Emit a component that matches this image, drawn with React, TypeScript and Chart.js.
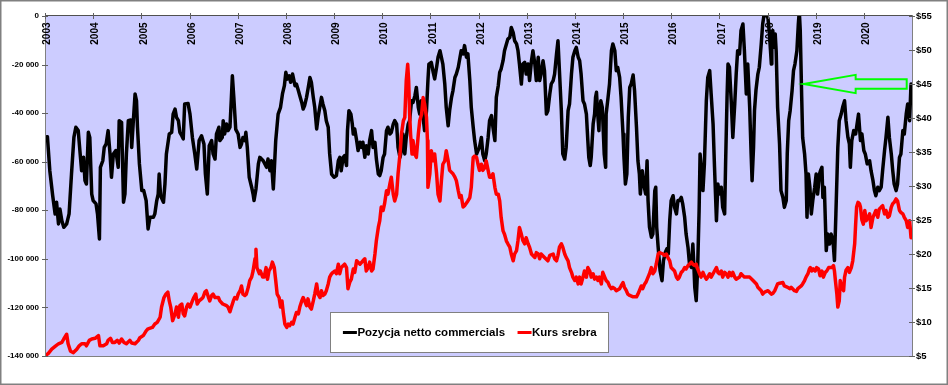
import React, { useEffect, useRef } from 'react';
import { Chart, registerables } from 'chart.js';

Chart.register(...registerables);

// x positions are in years counted from the "2003" tick
const yearLabels = ['2003','2004','2005','2006','2007','2008','2009','2010','2011','2012','2013','2014','2015','2016','2017','2018','2019','2020'];
const xMax = 18;

const netLabel = 'Pozycja netto commercials';
const silverLabel = 'Kurs srebra';

// net commercials position (contracts)
const netCommercials: [number, number][] = [
[0,-50000],[0.05,-49700],[0.10,-63700],[0.16,-74000],[0.21,-81500],[0.24,-76700],[0.28,-85600],[0.31,-79500],[0.35,-84300],[0.39,-87000],[0.45,-85600],[0.50,-81500],[0.55,-65100],[0.60,-50000],[0.64,-45800],[0.69,-47200],[0.73,-56800],[0.76,-63700],[0.80,-58200],[0.83,-67800],[0.86,-69200],[0.90,-47900],[0.93,-50000],[0.97,-73300],[1.00,-76000],[1.06,-77400],[1.09,-81500],[1.13,-91800],[1.15,-62300],[1.20,-59600],[1.23,-54100],[1.27,-52700],[1.31,-47200],[1.35,-56800],[1.38,-66400],[1.42,-56800],[1.47,-55400],[1.52,-62300],[1.54,-43100],[1.59,-43800],[1.63,-76700],[1.66,-73300],[1.69,-56800],[1.73,-43100],[1.78,-42800],[1.80,-54100],[1.83,-44500],[1.87,-32100],[1.90,-34900],[1.92,-45800],[1.96,-60900],[2.01,-71900],[2.05,-71900],[2.10,-76000],[2.14,-87700],[2.18,-82900],[2.25,-82900],[2.28,-81500],[2.32,-76000],[2.35,-73300],[2.37,-65100],[2.40,-74000],[2.46,-76700],[2.49,-69200],[2.52,-56800],[2.58,-48600],[2.63,-47900],[2.66,-40400],[2.70,-38300],[2.73,-41700],[2.77,-43100],[2.80,-47900],[2.84,-49300],[2.87,-50600],[2.90,-36200],[2.97,-36000],[3.01,-40400],[3.06,-50000],[3.11,-56800],[3.15,-63000],[3.20,-51300],[3.25,-49300],[3.30,-52700],[3.33,-65100],[3.37,-73300],[3.41,-53400],[3.46,-51300],[3.49,-56800],[3.53,-58900],[3.56,-48600],[3.61,-45800],[3.63,-51300],[3.68,-50000],
[3.70,-43100],[3.73,-48600],[3.77,-44500],[3.80,-47200],[3.84,-45800],[3.87,-33500],[3.89,-24600],[3.92,-33500],[3.96,-46700],[4.01,-48600],[4.05,-54100],[4.08,-52700],[4.11,-50000],[4.15,-51300],[4.17,-47900],[4.20,-54100],[4.24,-66400],[4.29,-70500],[4.32,-73300],[4.34,-76000],[4.38,-71200],[4.43,-60900],[4.46,-58200],[4.53,-59600],[4.60,-62300],[4.63,-58900],[4.67,-63700],[4.70,-59600],[4.74,-71200],[4.76,-63700],[4.79,-51300],[4.84,-40400],[4.89,-37600],[4.93,-32100],[4.97,-28700],[5.00,-23200],[5.03,-26000],[5.07,-24600],[5.10,-27300],[5.14,-23900],[5.19,-28700],[5.22,-28000],[5.26,-30700],[5.29,-32800],[5.33,-35600],[5.36,-38300],[5.39,-36900],[5.43,-33500],[5.46,-30100],[5.50,-25300],[5.53,-27300],[5.57,-33500],[5.60,-37600],[5.64,-46500],[5.67,-41700],[5.71,-36900],[5.74,-33500],[5.77,-36200],[5.81,-39000],[5.84,-43100],[5.88,-45800],[5.91,-56800],[5.95,-65100],[6.00,-66400],[6.05,-65700],[6.09,-59600],[6.12,-58200],[6.15,-63700],[6.19,-58200],[6.22,-57500],[6.26,-61600],[6.28,-47200],[6.31,-39000],[6.35,-40400],[6.38,-44500],[6.40,-48600],[6.43,-46500],[6.47,-51300],[6.50,-55400],[6.54,-52000],[6.57,-54100],[6.60,-52000],[6.64,-58200],[6.67,-53400],[6.71,-56800],[6.74,-51300],[6.78,-47200],[6.81,-54100],[6.85,-52000],[6.88,-58900],[6.92,-65100],[6.95,-65700],[6.98,-63700],[7.02,-58200],[7.05,-56800],[7.09,-47200],[7.12,-45800],[7.16,-48600],[7.19,-47900],[7.23,-44500],[7.26,-43100],
[7.30,-44500],[7.33,-54100],[7.37,-58200],[7.40,-55400],[7.43,-48600],[7.47,-56800],[7.50,-50000],[7.54,-44500],[7.57,-43100],[7.61,-34900],[7.64,-35600],[7.68,-32800],[7.71,-29400],[7.75,-37600],[7.78,-40400],[7.81,-34900],[7.85,-41700],[7.88,-47200],[7.92,-39000],[7.95,-26600],[7.97,-19800],[8.02,-19100],[8.06,-23200],[8.09,-25900],[8.13,-21100],[8.16,-17000],[8.20,-14300],[8.23,-17000],[8.26,-19800],[8.30,-28000],[8.33,-37600],[8.37,-45200],[8.40,-39000],[8.44,-33500],[8.47,-30700],[8.51,-25300],[8.54,-23900],[8.58,-21100],[8.61,-17700],[8.64,-14300],[8.68,-15600],[8.71,-12200],[8.75,-17000],[8.78,-15600],[8.82,-26600],[8.85,-37600],[8.89,-45800],[8.92,-51300],[8.96,-56800],[8.99,-55400],[9.02,-54100],[9.06,-50000],[9.09,-56800],[9.13,-59600],[9.16,-56800],[9.20,-50000],[9.23,-43100],[9.27,-41000],[9.30,-45800],[9.34,-51300],[9.37,-33500],[9.41,-28700],[9.44,-23200],[9.47,-21800],[9.51,-18400],[9.54,-14300],[9.58,-11500],[9.61,-9500],[9.65,-8800],[9.68,-4700],[9.72,-6800],[9.75,-10200],[9.79,-11500],[9.82,-14300],[9.85,-19800],[9.89,-28000],[9.92,-19800],[9.96,-19100],[9.99,-23900],[10.03,-19800],[10.06,-26600],[10.10,-18400],[10.13,-14300],[10.17,-19800],[10.20,-26600],[10.24,-17000],[10.27,-26600],[10.30,-23900],[10.34,-18400],[10.37,-22500],[10.41,-40400],[10.44,-39000],[10.48,-32100],[10.51,-28000],[10.55,-26600],[10.58,-23900],[10.62,-15600],[10.65,-10200],[10.68,-22500],[10.72,-39000],[10.75,-56800],[10.79,-58900],[10.82,-54100],[10.86,-39000],[10.89,-36200],[10.93,-23900],[10.96,-17000],
[11.00,-14300],[11.03,-12900],[11.07,-17000],[11.10,-18400],[11.13,-23900],[11.17,-34900],[11.20,-36200],[11.24,-40400],[11.27,-51300],[11.29,-58200],[11.32,-61600],[11.34,-58200],[11.38,-44500],[11.41,-40400],[11.43,-33500],[11.45,-31400],[11.47,-39000],[11.50,-47200],[11.51,-40400],[11.54,-34900],[11.57,-37600],[11.61,-56800],[11.64,-62300],[11.65,-40400],[11.69,-33500],[11.72,-28000],[11.76,-14300],[11.79,-11500],[11.83,-14300],[11.86,-22500],[11.89,-21100],[11.93,-25300],[11.96,-33500],[12.00,-48600],[12.02,-58200],[12.05,-69200],[12.08,-65100],[12.11,-41700],[12.14,-29400],[12.17,-28000],[12.21,-24300],[12.24,-30700],[12.28,-45800],[12.31,-59600],[12.34,-65100],[12.36,-73300],[12.40,-63700],[12.43,-69200],[12.47,-73300],[12.50,-59600],[12.52,-76000],[12.55,-87000],[12.59,-91100],[12.62,-89800],[12.66,-71900],[12.68,-70500],[12.70,-87000],[12.73,-95300],[12.77,-104900],[12.81,-109000],[12.84,-100700],[12.88,-97300],[12.91,-95900],[12.94,-98000],[12.97,-84300],[13.00,-76000],[13.04,-74000],[13.07,-78800],[13.11,-81500],[13.14,-76000],[13.17,-76000],[13.21,-74700],[13.24,-77400],[13.28,-82900],[13.31,-89800],[13.35,-95300],[13.38,-102100],[13.42,-103500],[13.45,-93900],[13.47,-102100],[13.49,-111700],[13.52,-117200],[13.55,-103500],[13.58,-80200],[13.60,-56800],[13.63,-63700],[13.66,-71900],[13.69,-60900],[13.73,-34900],[13.76,-25300],[13.80,-22500],[13.83,-32100],[13.87,-44500],[13.90,-62300],[13.94,-84300],[13.97,-69200],[14.00,-73300],[14.04,-70500],[14.07,-78800],[14.11,-81500],[14.13,-60900],[14.16,-33500],[14.18,-19800],[14.21,-21100],[14.25,-36200],[14.28,-50000],[14.32,-36200],[14.35,-23900],[14.38,-14300],[14.42,-15600],[14.45,-6000],[14.49,-3300],
[14.52,-14000],[14.56,-32100],[14.59,-19800],[14.63,-37600],[14.66,-56800],[14.68,-67800],[14.71,-54100],[14.73,-39000],[14.76,-30700],[14.80,-23900],[14.83,-21100],[14.87,-11500],[14.90,-3300],[14.94,2000],[14.97,1000],[15.01,-1000],[15.04,-7400],[15.08,-19800],[15.09,-10200],[15.11,-6000],[15.13,-12900],[15.16,-7400],[15.18,-14300],[15.21,-37600],[15.25,-52700],[15.28,-71900],[15.32,-74700],[15.35,-78800],[15.39,-76000],[15.41,-56800],[15.44,-43100],[15.47,-39000],[15.51,-30700],[15.54,-22500],[15.57,-19800],[15.61,-14300],[15.64,-3300],[15.66,2000],[15.68,-6000],[15.71,-33500],[15.73,-50000],[15.77,-56800],[15.80,-65100],[15.82,-82900],[15.85,-65100],[15.88,-70500],[15.91,-81500],[15.94,-76000],[15.98,-70500],[16.01,-65100],[16.04,-73300],[16.08,-65100],[16.10,-63700],[16.13,-62300],[16.15,-74700],[16.18,-70500],[16.22,-96600],[16.25,-89800],[16.29,-93900],[16.32,-89800],[16.36,-92500],[16.39,-100700],[16.42,-81500],[16.46,-54100],[16.49,-43100],[16.53,-40400],[16.56,-37600],[16.60,-34900],[16.63,-43100],[16.67,-50000],[16.70,-52700],[16.72,-62300],[16.75,-51300],[16.79,-47200],[16.83,-48600],[16.86,-44500],[16.89,-40400],[16.93,-51300],[16.96,-48600],[17.00,-55400],[17.03,-56800],[17.07,-60900],[17.12,-59600],[17.15,-63700],[17.19,-67800],[17.22,-71900],[17.25,-74000],[17.29,-70500],[17.32,-71900],[17.36,-70500],[17.39,-63700],[17.43,-55400],[17.46,-50000],[17.50,-41700],[17.53,-50000],[17.57,-56800],[17.60,-63700],[17.63,-69200],[17.67,-71900],[17.70,-69200],[17.74,-58200],[17.77,-56800],[17.81,-47200],[17.84,-48600],[17.88,-40400],[17.91,-36200],[17.95,-43100],[17.98,-28000]
];

// silver price (USD)
const silverPrice: [number, number][] = [
[0,5.0],[0.07,5.4],[0.14,6.0],[0.21,6.4],[0.28,6.8],[0.35,7.0],[0.39,7.5],[0.45,8.2],[0.48,6.8],[0.53,5.7],[0.59,5.5],[0.66,6.0],[0.71,6.5],[0.76,6.8],[0.83,6.8],[0.86,6.5],[0.92,7.3],[0.97,7.5],[1.04,7.6],[1.11,8.0],[1.14,6.5],[1.21,6.5],[1.28,6.8],[1.31,7.3],[1.36,7.6],[1.40,7.0],[1.45,7.0],[1.50,7.3],[1.54,6.9],[1.59,7.5],[1.64,7.0],[1.69,6.8],[1.76,7.3],[1.80,6.9],[1.87,6.8],[1.94,7.3],[1.97,7.7],[2.04,8.0],[2.10,8.7],[2.14,9.0],[2.23,9.2],[2.28,9.7],[2.33,9.95],[2.39,10.7],[2.42,12.2],[2.47,13.6],[2.51,14.1],[2.55,14.4],[2.58,13.1],[2.61,12.2],[2.65,10.2],[2.70,11.2],[2.73,12.2],[2.77,10.7],[2.80,12.4],[2.84,12.65],[2.87,11.2],[2.90,10.9],[2.94,12.2],[2.97,12.65],[3.01,12.2],[3.06,13.1],[3.09,13.6],[3.13,14.1],[3.16,12.65],[3.20,13.1],[3.25,13.4],[3.28,13.6],[3.32,14.4],[3.35,14.6],[3.39,13.7],[3.42,13.1],[3.46,13.9],[3.49,14.1],[3.53,13.6],[3.60,13.6],[3.63,13.1],[3.69,12.65],
[3.77,12.4],[3.80,12.2],[3.84,11.5],[3.87,12.2],[3.91,13.1],[3.94,13.6],[3.98,13.4],[4.01,14.1],[4.05,14.6],[4.08,15.3],[4.11,14.1],[4.15,13.9],[4.18,14.1],[4.22,15.1],[4.25,16.1],[4.29,16.6],[4.32,17.5],[4.36,19.3],[4.38,20.7],[4.40,18.0],[4.45,17.1],[4.47,17.5],[4.52,16.6],[4.55,16.6],[4.59,18.0],[4.62,16.3],[4.65,17.5],[4.69,18.0],[4.72,18.8],[4.76,18.0],[4.79,16.1],[4.82,14.1],[4.86,13.6],[4.89,12.2],[4.92,13.1],[4.95,11.2],[4.98,9.7],[5.02,9.2],[5.05,9.7],[5.08,9.45],[5.12,9.95],[5.15,9.7],[5.19,10.7],[5.22,11.4],[5.26,11.2],[5.29,12.2],[5.33,13.1],[5.36,13.6],[5.39,13.1],[5.43,12.4],[5.46,13.4],[5.50,12.2],[5.53,11.9],[5.57,13.1],[5.60,14.1],[5.64,15.6],[5.67,14.1],[5.71,13.6],[5.74,14.6],[5.77,13.9],[5.81,14.1],[5.84,14.6],[5.88,15.6],[5.91,16.6],[5.95,17.1],[5.98,17.3],[6.02,17.5],[6.05,17.1],[6.09,18.5],[6.12,17.1],[6.15,18.0],[6.22,18.5],[6.26,18.0],[6.29,14.9],[6.33,15.9],[6.36,16.3],[6.40,17.8],[6.43,17.3],[6.47,19.0],[6.54,18.5],[6.60,19.0],[6.64,19.3],[6.67,17.5],[6.71,18.0],[6.74,18.8],[6.78,17.5],[6.81,17.8],[6.85,20.0],[6.88,22.0],[6.92,23.9],[6.95,24.9],[6.98,26.9],[7.02,26.4],[7.05,27.4],[7.09,29.3],[7.12,28.8],[7.16,30.3],[7.19,31.3],[7.23,28.8],[7.26,27.8],
[7.30,28.8],[7.33,31.8],[7.37,34.7],[7.40,37.6],[7.44,39.6],[7.47,40.1],[7.50,45.5],[7.53,47.9],[7.55,45.5],[7.57,40.6],[7.59,37.6],[7.62,34.7],[7.64,36.7],[7.68,34.7],[7.71,34.2],[7.75,37.6],[7.78,39.6],[7.82,40.6],[7.85,43.0],[7.88,42.1],[7.92,40.1],[7.94,36.7],[7.95,29.8],[7.99,31.8],[8.02,35.2],[8.06,33.7],[8.09,34.7],[8.13,31.8],[8.16,28.8],[8.20,27.8],[8.23,30.8],[8.26,33.2],[8.30,33.7],[8.33,35.2],[8.37,33.7],[8.40,32.3],[8.47,31.8],[8.51,31.3],[8.54,30.8],[8.58,29.3],[8.61,28.3],[8.64,28.6],[8.68,26.9],[8.71,27.1],[8.78,27.8],[8.82,28.3],[8.85,29.8],[8.89,34.2],[8.92,34.4],[8.96,34.2],[8.99,33.2],[9.02,32.3],[9.06,33.2],[9.09,32.3],[9.13,32.7],[9.16,33.7],[9.20,32.3],[9.23,31.3],[9.27,31.3],[9.30,31.8],[9.34,29.8],[9.37,28.8],[9.41,28.8],[9.44,27.8],[9.47,25.4],[9.51,23.4],[9.54,22.9],[9.58,21.9],[9.61,21.5],[9.65,21.0],[9.68,20.0],[9.72,19.0],[9.75,20.0],[9.79,20.5],[9.82,22.0],[9.85,23.9],[9.89,22.9],[9.92,22.0],[9.96,21.5],[9.99,22.4],[10.03,21.5],[10.06,21.0],[10.10,20.0],[10.17,19.5],[10.20,20.2],[10.24,20.0],[10.27,19.3],[10.30,20.0],[10.37,19.5],[10.44,19.0],[10.48,19.8],[10.55,20.0],[10.58,19.3],[10.62,19.0],[10.65,19.8],[10.68,21.0],[10.72,21.5],[10.75,21.0],[10.79,20.0],[10.82,19.5],[10.86,19.0],[10.89,18.0],[10.93,17.3],[10.96,16.6],
[11.00,16.1],[11.03,16.6],[11.07,15.6],[11.10,16.6],[11.13,15.6],[11.17,16.6],[11.20,17.5],[11.24,16.6],[11.27,18.0],[11.31,17.5],[11.34,16.6],[11.38,17.1],[11.41,16.3],[11.45,16.6],[11.48,16.1],[11.51,16.6],[11.55,15.6],[11.58,17.3],[11.62,16.6],[11.65,16.1],[11.69,15.8],[11.72,15.3],[11.76,14.9],[11.79,15.1],[11.83,14.9],[11.86,14.6],[11.93,14.9],[11.96,15.3],[12.00,15.8],[12.03,15.1],[12.07,14.6],[12.10,14.1],[12.14,13.9],[12.21,13.7],[12.28,13.7],[12.31,14.1],[12.34,14.6],[12.38,15.3],[12.41,14.9],[12.45,15.6],[12.48,15.9],[12.52,16.6],[12.55,17.1],[12.59,18.0],[12.62,17.1],[12.66,17.5],[12.69,18.5],[12.73,20.0],[12.76,20.2],[12.83,20.0],[12.86,19.8],[12.90,20.0],[12.93,19.5],[12.97,19.0],[13.00,18.0],[13.07,17.5],[13.11,16.6],[13.14,16.3],[13.17,16.6],[13.21,17.3],[13.24,17.5],[13.28,18.0],[13.31,17.8],[13.35,18.3],[13.38,18.5],[13.42,18.8],[13.45,18.5],[13.49,18.3],[13.52,18.5],[13.55,17.8],[13.59,17.1],[13.62,16.6],[13.66,17.3],[13.69,16.8],[13.73,16.3],[13.76,16.6],[13.80,17.1],[13.83,16.6],[13.87,17.1],[13.90,17.5],[13.94,18.0],[13.97,17.3],[14.00,17.1],[14.04,17.5],[14.07,16.6],[14.11,17.3],[14.14,17.1],[14.18,16.6],[14.21,17.3],[14.25,16.8],[14.28,17.3],[14.32,16.6],[14.35,16.3],[14.42,16.6],[14.45,17.1],[14.52,16.6],
[14.56,16.6],[14.63,16.6],[14.70,16.1],[14.77,15.6],[14.80,15.1],[14.87,14.6],[14.90,14.1],[14.94,14.4],[15.01,14.6],[15.08,14.1],[15.11,14.2],[15.15,14.6],[15.18,15.1],[15.21,15.6],[15.25,15.7],[15.32,15.8],[15.35,15.3],[15.42,15.1],[15.46,14.9],[15.49,15.1],[15.56,14.6],[15.60,14.5],[15.63,14.9],[15.70,15.3],[15.73,15.6],[15.77,16.1],[15.80,16.6],[15.84,17.1],[15.87,17.8],[15.89,18.0],[15.92,17.5],[15.95,17.8],[15.99,17.5],[16.02,18.0],[16.06,17.8],[16.09,16.8],[16.13,17.5],[16.16,16.6],[16.20,17.3],[16.23,17.5],[16.27,18.0],[16.34,18.0],[16.37,18.3],[16.39,17.5],[16.41,16.1],[16.44,14.1],[16.46,12.2],[16.49,13.1],[16.51,16.1],[16.54,15.1],[16.58,14.6],[16.60,16.6],[16.63,17.6],[16.67,18.0],[16.70,17.3],[16.74,18.0],[16.77,19.0],[16.81,21.5],[16.83,24.4],[16.85,26.9],[16.88,27.6],[16.91,27.4],[16.93,26.9],[16.96,25.0],[16.99,24.4],[17.02,26.4],[17.05,24.9],[17.09,25.4],[17.12,25.9],[17.15,23.9],[17.19,25.4],[17.22,25.9],[17.25,26.4],[17.29,25.4],[17.32,26.6],[17.36,26.9],[17.39,27.1],[17.43,25.9],[17.46,26.4],[17.50,25.4],[17.53,25.6],[17.57,26.9],[17.60,27.4],[17.63,27.6],[17.67,28.1],[17.70,27.8],[17.74,26.4],[17.77,26.1],[17.81,25.9],[17.84,25.4],[17.88,24.9],[17.91,23.9],[17.95,24.9],[17.98,22.4]
];

// green arrow annotation (x in years, level on the $ axis)
const arrowTip = 15.75;
const arrowNeck = 16.83;
const arrowTail = 17.89;
const arrowLevel = 45;
const arrowHeadHalf = 1.35;
const arrowShaftHalf = 0.7;

const FONT = "'Liberation Sans', Arial, Helvetica, sans-serif";

function fmtLeft(v: number): string {
  if (v === 0) return '0';
  const s = Math.abs(v).toString().replace(/\B(?=(\d{3})+(?!\d))/g, ' ');
  return (v < 0 ? '-' : '') + s;
}

export default function App() {
  const ref = useRef<HTMLCanvasElement>(null);

  useEffect(() => {
    const canvas = ref.current;
    if (!canvas) return;

    const decor = {
      id: 'decor',
      beforeDraw(chart: any) {
        const { ctx, chartArea: a, width, height } = chart;
        ctx.save();
        ctx.fillStyle = '#ffffff';
        ctx.fillRect(0, 0, width, height);
        ctx.fillStyle = '#CCCCFF';
        ctx.fillRect(a.left, a.top, a.right - a.left, a.bottom - a.top);
        ctx.restore();
      },
      afterDatasetsDraw(chart: any) {
        const { ctx, chartArea: a, scales } = chart;
        const xs = scales.x, ys = scales.y, ys1 = scales.y1;
        ctx.save();
        // plot border
        ctx.lineWidth = 1;
        ctx.strokeStyle = '#808080';
        ctx.strokeRect(a.left + 0.5, a.top - 0.5, a.right - a.left, a.bottom - a.top + 1);
        ctx.strokeStyle = '#505050';
        ctx.beginPath();
        ctx.moveTo(a.left, a.top - 0.5);
        ctx.lineTo(a.right, a.top - 0.5);
        ctx.stroke();
        // cross tick marks
        ctx.strokeStyle = '#606060';
        ctx.beginPath();
        yearLabels.forEach((_, i) => {
          const px = Math.round(xs.getPixelForValue(i)) + 0.5;
          ctx.moveTo(px, a.top - 3);
          ctx.lineTo(px, a.top + 3);
        });
        ys.ticks.forEach((t: any) => {
          const py = Math.round(ys.getPixelForValue(t.value)) + 0.5;
          ctx.moveTo(a.left - 3, py);
          ctx.lineTo(a.left + 3, py);
        });
        ys1.ticks.forEach((t: any) => {
          const py = Math.round(ys1.getPixelForValue(t.value)) + 0.5;
          ctx.moveTo(a.right - 3, py);
          ctx.lineTo(a.right + 3, py);
        });
        ctx.stroke();
        // year labels, rotated, inside the plot
        ctx.fillStyle = '#000000';
        ctx.font = 'bold 10px ' + FONT;
        ctx.textAlign = 'right';
        ctx.textBaseline = 'middle';
        yearLabels.forEach((lab, i) => {
          const px = xs.getPixelForValue(i);
          ctx.save();
          ctx.translate(px + 2.5, a.top + 6.5);
          ctx.rotate(-Math.PI / 2);
          ctx.fillText(lab, 0, 0);
          ctx.restore();
        });
        // green arrow
        const tipX = xs.getPixelForValue(arrowTip);
        const neckX = xs.getPixelForValue(arrowNeck);
        const tailX = xs.getPixelForValue(arrowTail);
        const yc = ys1.getPixelForValue(arrowLevel);
        const hT = ys1.getPixelForValue(arrowLevel + arrowHeadHalf);
        const hB = ys1.getPixelForValue(arrowLevel - arrowHeadHalf);
        const sT = ys1.getPixelForValue(arrowLevel + arrowShaftHalf);
        const sB = ys1.getPixelForValue(arrowLevel - arrowShaftHalf);
        ctx.strokeStyle = '#00FF00';
        ctx.lineWidth = 2;
        ctx.lineJoin = 'miter';
        ctx.beginPath();
        ctx.moveTo(tipX, yc);
        ctx.lineTo(neckX, hT);
        ctx.lineTo(neckX, sT);
        ctx.lineTo(tailX, sT);
        ctx.lineTo(tailX, sB);
        ctx.lineTo(neckX, sB);
        ctx.lineTo(neckX, hB);
        ctx.closePath();
        ctx.stroke();
        // legend
        const boxX = 330.5, boxY = 312.5, boxW = 278, boxH = 40;
        ctx.fillStyle = '#ffffff';
        ctx.fillRect(boxX, boxY, boxW, boxH);
        ctx.strokeStyle = '#808080';
        ctx.lineWidth = 1;
        ctx.strokeRect(boxX, boxY, boxW, boxH);
        const items = [chart.data.datasets[0], chart.data.datasets[1]];
        ctx.font = 'bold 11.5px ' + FONT;
        const sample = 14, gap = 13;
        const widths = items.map((d: any) => ctx.measureText(d.label).width);
        const total = widths.reduce((s: number, w: number) => s + sample + w, 0) + gap * (items.length - 1);
        let x = boxX + boxW / 2 - total / 2;
        const cy = boxY + boxH / 2;
        items.forEach((d: any, i: number) => {
          ctx.strokeStyle = d.borderColor;
          ctx.lineWidth = 3;
          ctx.lineCap = 'butt';
          ctx.beginPath();
          ctx.moveTo(x, cy);
          ctx.lineTo(x + sample, cy);
          ctx.stroke();
          ctx.fillStyle = '#000000';
          ctx.textAlign = 'left';
          ctx.textBaseline = 'middle';
          ctx.fillText(d.label, x + sample + 0.5, cy + 0.5);
          x += sample + widths[i] + gap;
        });
        ctx.restore();
      },
      afterDraw(chart: any) {
        const { ctx, width, height } = chart;
        ctx.save();
        ctx.strokeStyle = '#808080';
        ctx.lineWidth = 1.5;
        ctx.strokeRect(0.75, 0.75, width - 1.5, height - 1.5);
        ctx.restore();
      },
    };

    const chart = new Chart(canvas, {
      type: 'line',
      data: {
        datasets: [
          {
            label: netLabel,
            data: netCommercials.map(([x, y]) => ({ x, y })),
            xAxisID: 'x',
            yAxisID: 'y',
            borderColor: '#000000',
            backgroundColor: '#000000',
            borderWidth: 3.5,
            pointRadius: 0,
            tension: 0,
            borderJoinStyle: 'round',
            borderCapStyle: 'round',
            clip: 0,
            order: 1,
          },
          {
            label: silverLabel,
            data: silverPrice.map(([x, y]) => ({ x, y })),
            xAxisID: 'x',
            yAxisID: 'y1',
            borderColor: '#FF0000',
            backgroundColor: '#FF0000',
            borderWidth: 3.5,
            pointRadius: 0,
            tension: 0,
            borderJoinStyle: 'round',
            borderCapStyle: 'round',
            clip: 0,
            order: 0,
          },
        ],
      } as any,
      options: {
        responsive: false,
        animation: false,
        events: [],
        layout: { padding: { top: 0, bottom: 29, left: 0, right: 0 } },
        plugins: { legend: { display: false }, tooltip: { enabled: false } },
        scales: {
          x: {
            type: 'linear',
            position: 'top',
            min: 0,
            max: xMax,
            grid: { display: false, drawTicks: false },
            border: { display: false },
            ticks: { display: false },
            afterBuildTicks: (s: any) => { s.ticks = yearLabels.map((_, i) => ({ value: i })); },
            afterFit: (s: any) => { s.height = 16; },
          },
          y: {
            position: 'left',
            min: -140000,
            max: 0,
            grid: { display: false, drawTicks: false },
            border: { display: false },
            ticks: {
              stepSize: 20000,
              callback: (v: any) => fmtLeft(Number(v)),
              color: '#000000',
              padding: 6,
              font: { family: FONT, size: 8, weight: 'bold' },
            },
            afterFit: (s: any) => { s.width = 45; },
          },
          y1: {
            position: 'right',
            min: 5,
            max: 55,
            grid: { display: false, drawTicks: false },
            border: { display: false },
            ticks: {
              stepSize: 5,
              callback: (v: any) => '$' + v,
              color: '#000000',
              padding: 4,
              font: { family: FONT, size: 9.5, weight: 'bold' },
            },
            afterFit: (s: any) => { s.width = 36; },
          },
        },
      } as any,
      plugins: [decor],
    });

    return () => { chart.destroy(); };
  }, []);

  return (
    <div style={{ position: 'fixed', left: 0, top: 0, width: 948, height: 385 }}>
      <canvas ref={ref} width={948} height={385} style={{ display: 'block', width: 948, height: 385 }} />
    </div>
  );
}
